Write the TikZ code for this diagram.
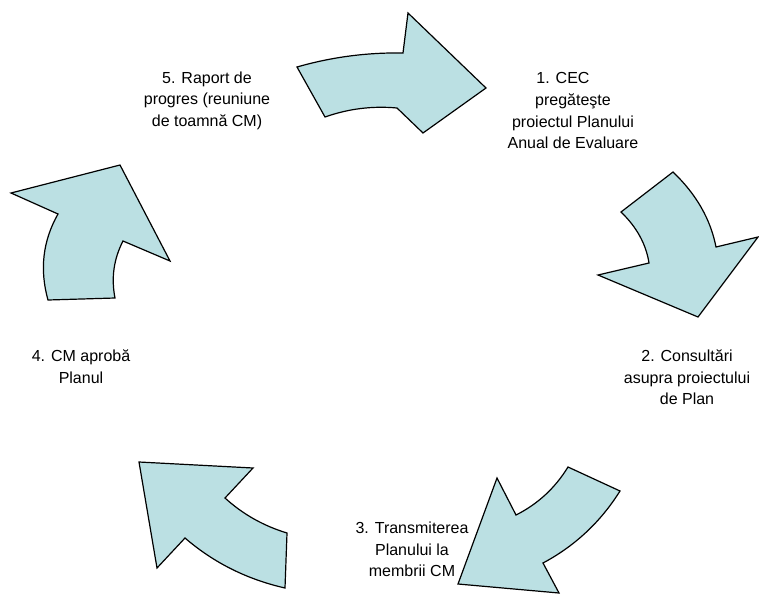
\documentclass[tikz,border=0pt]{standalone}
\usepackage{fontspec}
\setmainfont{Liberation Sans}
\usetikzlibrary{calc}
\definecolor{arrowfill}{RGB}{187,224,227}
\begin{document}
\begin{tikzpicture}[x=1pt,y=-1pt,
  blockarrow/.style={draw=black,fill=arrowfill,line width=1.2pt,line join=miter},
  label/.style={align=center,inner sep=0pt,font=\fontsize{16pt}{21.7pt}\selectfont}]
\useasboundingbox (0,0) rectangle (759,594);
\begin{scope}
\clip (0,0) rectangle (759,594);
% arrow 1 (top)
\draw[blockarrow] (297,67) .. controls ($(297,67)!0.6667!(348.9,52.1)$) and ($(403,53)!0.6667!(348.9,52.1)$) .. (403,53)
  -- (408,13) -- (486,88) -- (423,133) -- (397,108)
  .. controls ($(397,108)!0.6667!(360.0,104.6)$) and ($(325,117)!0.6667!(360.0,104.6)$) .. (325,117) -- cycle;
% arrow 2 (right)
\draw[blockarrow] (673,172) .. controls ($(673,172)!0.6667!(707.8,205.2)$) and ($(716,247)!0.6667!(707.8,205.2)$) .. (716,247)
  -- (758,237) -- (698,317) -- (598,275) -- (649,263)
  .. controls ($(649,263)!0.6667!(644.6,234.7)$) and ($(621,212)!0.6667!(644.6,234.7)$) .. (621,212) -- cycle;
% arrow 3 (bottom right)
\draw[blockarrow] (568,467) -- (620,491)
  .. controls ($(620,491)!0.6667!(590.9,537.4)$) and ($(543,563)!0.6667!(590.9,537.4)$) .. (543,563)
  -- (559,593) -- (458,584) -- (497,478) -- (516,515)
  .. controls ($(516,515)!0.6667!(548.6,498.6)$) and ($(568,467)!0.6667!(548.6,498.6)$) .. (568,467) -- cycle;
% arrow 4 (bottom left)
\draw[blockarrow] (139,462) -- (253,468) -- (225,498)
  .. controls ($(225,498)!0.6667!(251.7,522.3)$) and ($(287,533)!0.6667!(251.7,522.3)$) .. (287,533) -- (285,588)
  .. controls ($(285,588)!0.6667!(227.9,575.0)$) and ($(185,538)!0.6667!(227.9,575.0)$) .. (185,538) -- (157,568) -- cycle;
% arrow 5 (left)
\draw[blockarrow] (11,193) -- (120,165) -- (170,261) -- (123,241)
  .. controls ($(123,241)!0.6667!(109.1,268.0)$) and ($(115,298)!0.6667!(109.1,268.0)$) .. (115,298) -- (48,300)
  .. controls ($(48,300)!0.6667!(35.2,254.2)$) and ($(58,214)!0.6667!(35.2,254.2)$) .. (58,214) -- cycle;
\end{scope}
\node[label] (t1) at (573,110.8) {1. CEC\hspace*{20pt}\\pregăteşte\\proiectul Planului\\Anual de Evaluare};
\node[label] (t2) at (687,377.3) {2. Consultări\\asupra proiectului\\de Plan};
\node[label] (t3) at (412,549.3) {3. Transmiterea\\Planului la\\membrii CM};
\node[label] (t4) at (81,366.8) {4. CM aprobă\\Planul};
\node[label] (t5) at (207,100.8) {5. Raport de\\progres (reuniune\\de toamnă CM)};
\end{tikzpicture}
\end{document}
